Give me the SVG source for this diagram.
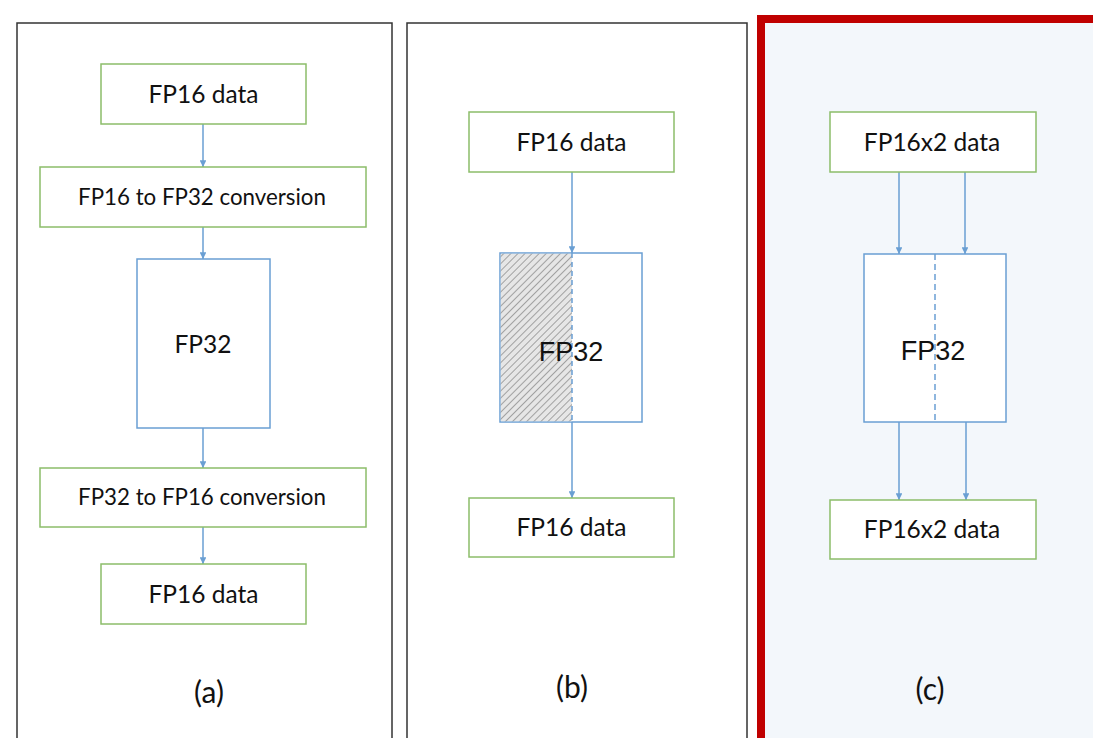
<svg xmlns="http://www.w3.org/2000/svg" width="1093" height="738" viewBox="0 0 1093 738">
<defs>
<style>
.panel{fill:#ffffff;stroke:#333333;stroke-width:1.5}
.g{fill:#ffffff;stroke:#8cbd6a;stroke-width:1.5}
.b{fill:#ffffff;stroke:#6a9fd3;stroke-width:1.5}
.c{stroke:#6a9fd3;stroke-width:1.5;fill:none;marker-end:url(#ah)}
.t{font-family:Lato,"Open Sans",sans-serif;font-size:24.5px;fill:#111111;text-anchor:middle}
.tc{font-family:Lato,"Open Sans",sans-serif;font-size:22.3px;fill:#111111;text-anchor:middle}
.f{font-family:"Liberation Sans",Arial,sans-serif;font-size:27px;fill:#111111;text-anchor:middle}
.cap{font-family:Lato,"Open Sans",sans-serif;font-size:30px;fill:#111111;text-anchor:middle}
</style>
<marker id="ah" viewBox="0 0 10 10" refX="10" refY="5" markerWidth="4.5" markerHeight="4.5" orient="auto" markerUnits="strokeWidth">
<path d="M0,0 L10,5 L0,10 Z" fill="#6a9fd3"/>
</marker>
<pattern id="hatch" patternUnits="userSpaceOnUse" width="5" height="5" patternTransform="rotate(45)">
<rect width="5" height="5" fill="#e6e6e6"/>
<line x1="0" y1="0" x2="0" y2="5" stroke="#999999" stroke-width="1.8"/>
</pattern>
</defs>
<rect width="1093" height="738" fill="#ffffff"/>
<g id="panel-a">
<rect class="panel" x="17" y="23" width="375" height="730"/>
</g>
<g id="panel-b">
<rect class="panel" x="407" y="23" width="340" height="730"/>
</g>
<g id="panel-c">
<rect x="761" y="19" width="340" height="730" fill="#f3f7fb" stroke="#c00000" stroke-width="8"/>
</g>
<g id="connectors">
<line class="c" x1="203" y1="124" x2="203" y2="167"/>
<line class="c" x1="203" y1="227" x2="203" y2="259"/>
<line class="c" x1="203" y1="428" x2="203" y2="468"/>
<line class="c" x1="203" y1="527" x2="203" y2="564"/>
<line class="c" x1="572" y1="172" x2="572" y2="253"/>
<line class="c" x1="572" y1="422" x2="572" y2="498"/>
<line class="c" x1="899" y1="172" x2="899" y2="254"/>
<line class="c" x1="965" y1="172" x2="965" y2="254"/>
<line class="c" x1="899" y1="422" x2="899" y2="500"/>
<line class="c" x1="966" y1="422" x2="966" y2="500"/>
</g>
<g id="a-fp16-in">
<rect class="g" x="101" y="64" width="205" height="60"/>
<text class="t" x="203.5" y="103">FP16 data</text>
</g>
<g id="a-conv1">
<rect class="g" x="40" y="167" width="326" height="60"/>
<text class="tc" x="202" y="205">FP16 to FP32 conversion</text>
</g>
<g id="a-fp32">
<rect class="b" x="137" y="259" width="133" height="169"/>
<text class="t" x="203" y="353">FP32</text>
</g>
<g id="a-conv2">
<rect class="g" x="40" y="468" width="326" height="59"/>
<text class="tc" x="202" y="505">FP32 to FP16 conversion</text>
</g>
<g id="a-fp16-out">
<rect class="g" x="101" y="564" width="205" height="60"/>
<text class="t" x="203.5" y="603">FP16 data</text>
</g>
<g id="a-label"><text class="cap" x="209" y="703">(a)</text></g>
<g id="b-fp16-in">
<rect class="g" x="469" y="112" width="205" height="60"/>
<text class="t" x="571.5" y="151">FP16 data</text>
</g>
<g id="b-fp32">
<rect class="b" x="500" y="253" width="142" height="169"/>
<rect x="500.75" y="253.75" width="71.25" height="167.5" fill="url(#hatch)"/>
<line x1="572" y1="253" x2="572" y2="422" stroke="#6a9fd3" stroke-width="1.5" stroke-dasharray="5,4"/>
<text class="f" x="571" y="361">FP32</text>
</g>
<g id="b-fp16-out">
<rect class="g" x="469" y="498" width="205" height="59"/>
<text class="t" x="571.5" y="536">FP16 data</text>
</g>
<g id="b-label"><text class="cap" x="572" y="698">(b)</text></g>
<g id="c-in">
<rect class="g" x="830" y="112" width="206" height="60"/>
<text class="t" x="932" y="151">FP16x2 data</text>
</g>
<g id="c-fp32">
<rect class="b" x="864" y="254" width="142" height="168"/>
<line x1="935" y1="254" x2="935" y2="422" stroke="#6a9fd3" stroke-width="1.5" stroke-dasharray="6,4"/>
<text class="f" x="933" y="360">FP32</text>
</g>
<g id="c-out">
<rect class="g" x="830" y="500" width="206" height="59"/>
<text class="t" x="932" y="538">FP16x2 data</text>
</g>
<g id="c-label"><text class="cap" x="930" y="700">(c)</text></g>
</svg>
